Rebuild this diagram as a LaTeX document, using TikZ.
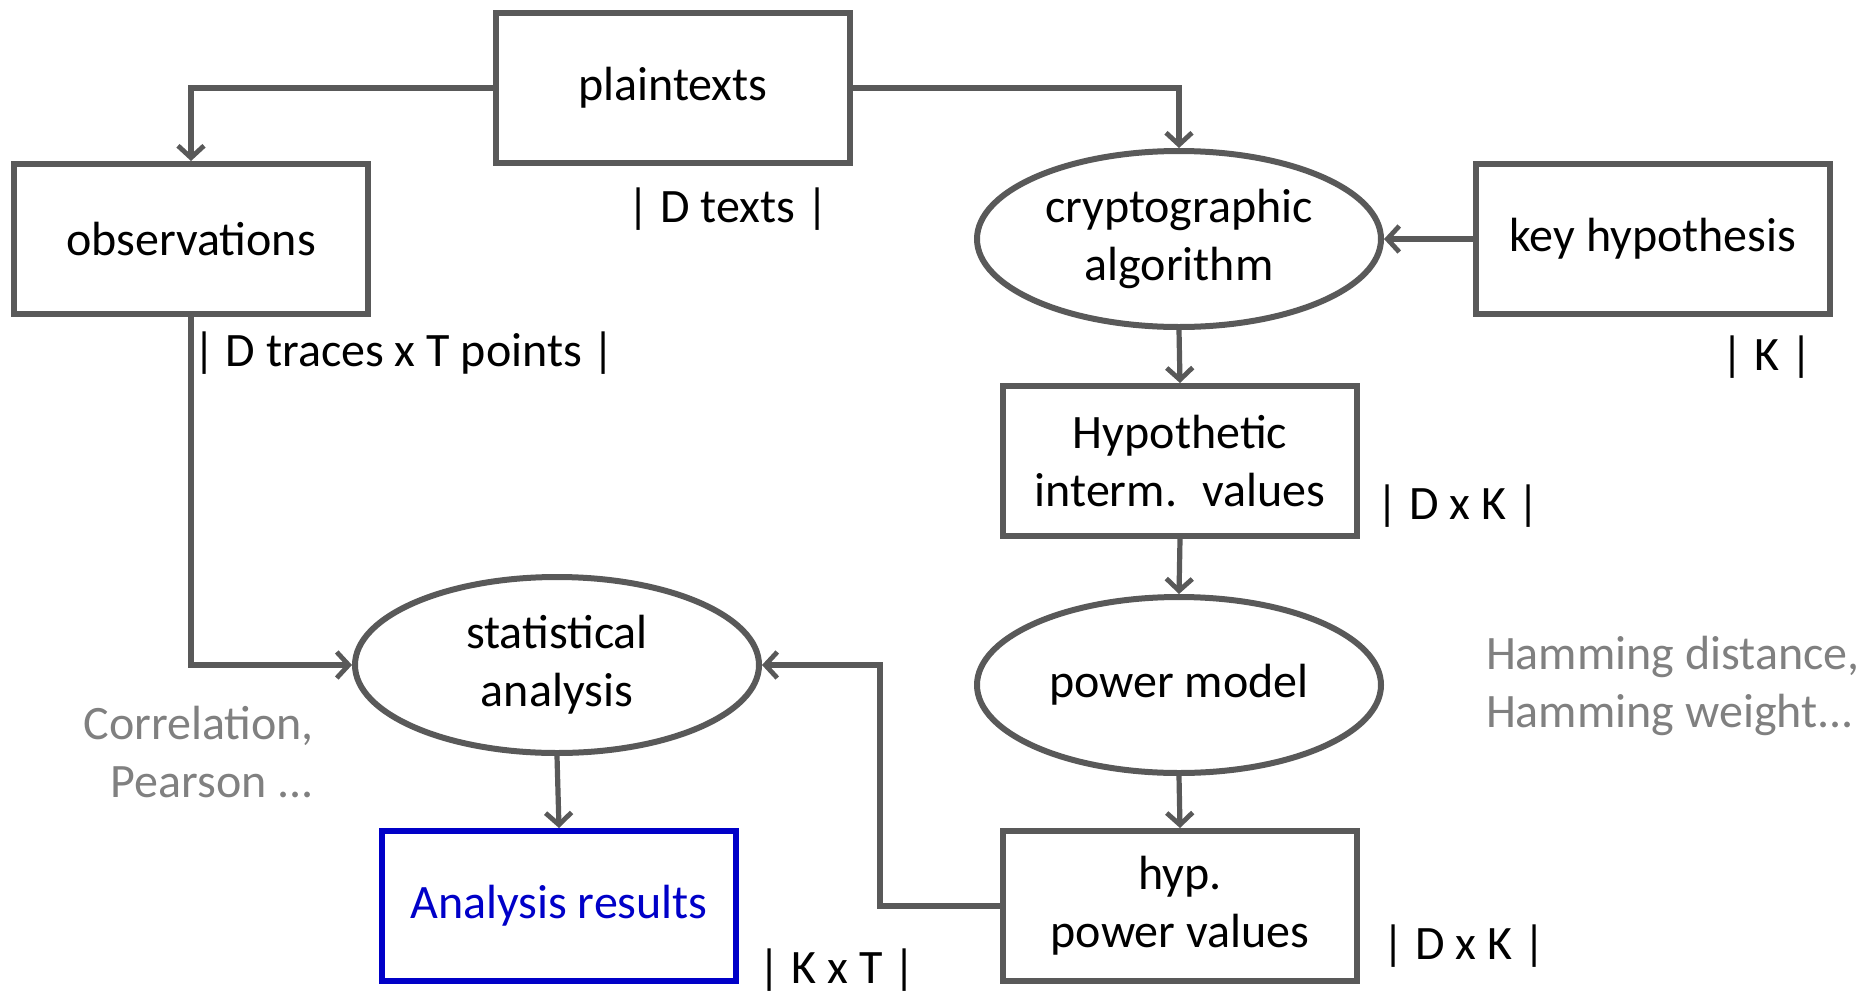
\documentclass[tikz,border=0pt]{standalone}
\usepackage{fontspec}
\setmainfont{Carlito}
\usetikzlibrary{shapes.geometric,arrows.meta}
\definecolor{lgray}{RGB}{89,89,89}
\definecolor{tgray}{RGB}{128,128,128}
\definecolor{rblue}{RGB}{0,0,200}
\begin{document}
\begin{tikzpicture}[x=0.5pt,y=-0.5pt,
  every node/.style={font=\fontsize{24}{29}\selectfont},
  box/.style={draw=lgray,line width=3pt,minimum width=177pt,minimum height=75pt,align=center,inner sep=0pt},
  oval/.style={ellipse,draw=lgray,line width=3pt,minimum width=202pt,minimum height=88pt,align=center,inner sep=0pt},
  conn/.style={draw=lgray,line width=2.6pt,-{Straight Barb[length=6pt,width=13pt,line width=2.4pt]}},
  dim/.style={text=black},
  note/.style={text=tgray}]
\useasboundingbox (0,0) rectangle (1858,996);
\node[box] (plain) at (673,88) {plaintexts};
\node[box] (obs) at (191,239) {observations};
\node[oval] (crypto) at (1179,239) {cryptographic\\algorithm};
\node[box] (key) at (1653,239) {key hypothesis};
\node[box] (hyp) at (1180,461) {Hypothetic\\interm.~ values};
\node[oval] (pm) at (1179,685) {power model};
\node[box] (hpv) at (1180,906) {hyp.\\power values};
\node[oval] (stat) at (557,665) {statistical\\analysis};
\node[box,draw=rblue,text=rblue] (res) at (559,906) {Analysis results};

\node[dim] (l1) at (728,209) {| D texts |};
\node[dim] (l2) at (404,353) {| D traces x T points |};
\node[dim] (l3) at (1767,357) {| K |};
\node[dim] (l4) at (1458,506) {| D x K |};
\node[dim] (l5) at (1464,946) {| D x K |};
\node[dim] (l6) at (837,970) {| K x T |};
\node[note,align=right,anchor=east] (n1) at (321,752) {Correlation,\\Pearson ...};
\node[note,align=left,anchor=west] (n2) at (1479,686) {Hamming distance,\\Hamming weight...};

\coordinate (c1) at (191,88);
\coordinate (c2) at (1179,88);
\coordinate (c3) at (191,665);
\coordinate (c4) at (880,906);
\coordinate (c5) at (880,665);
\draw[conn] (plain.west) -- (c1) -- (obs.north);
\draw[conn] (plain.east) -- (c2) -- (crypto.north);
\draw[conn] (key.west) -- (crypto.east);
\draw[conn] (crypto.south) -- (hyp.north);
\draw[conn] (hyp.south) -- (pm.north);
\draw[conn] (pm.south) -- (hpv.north);
\draw[conn] (obs.south) -- (c3) -- (stat.west);
\draw[conn] (hpv.west) -- (c4) -- (c5) -- (stat.east);
\draw[conn] (stat.south) -- (res.north);
\end{tikzpicture}
\end{document}
